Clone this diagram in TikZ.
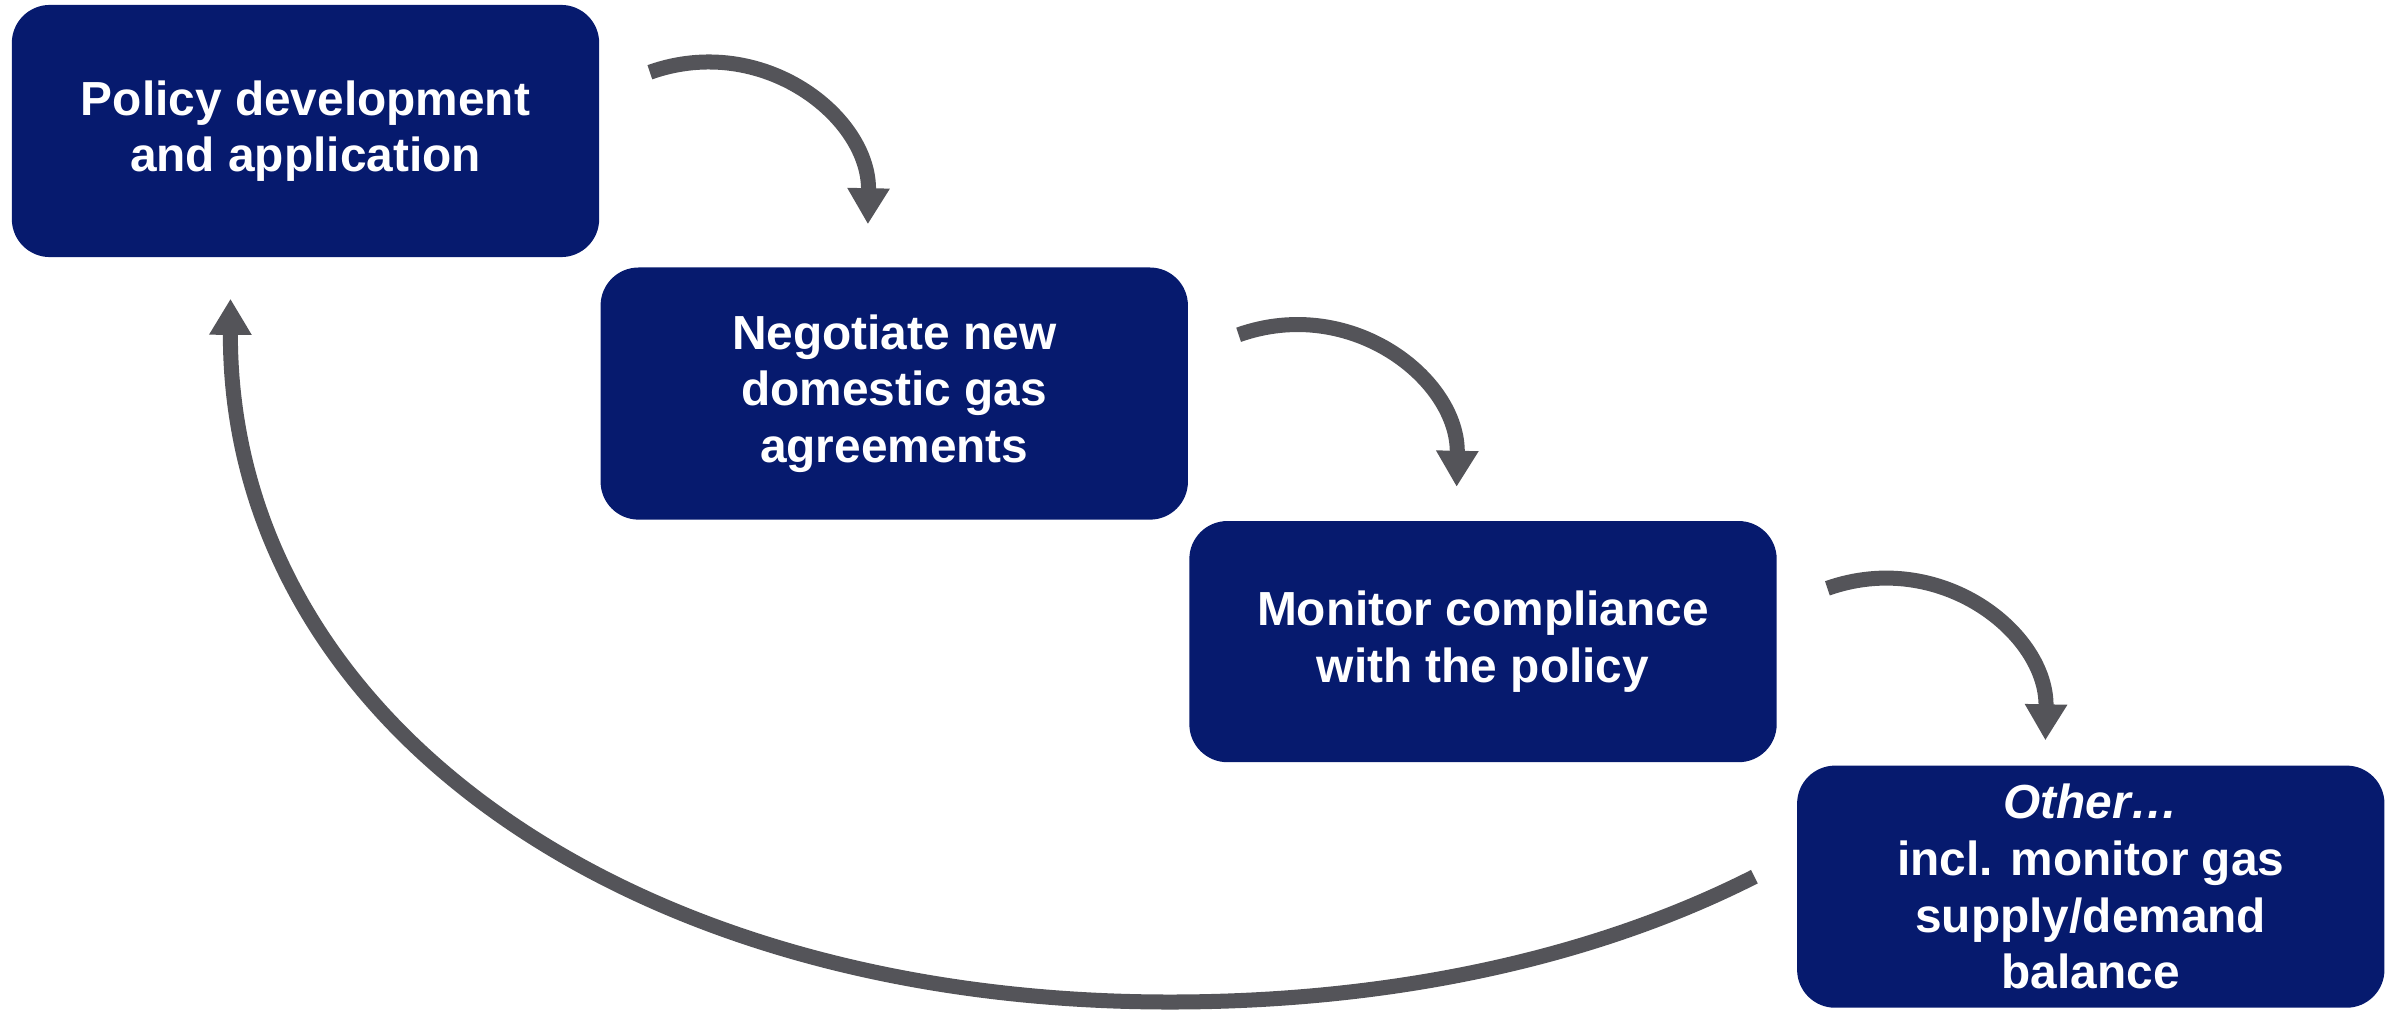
\documentclass[tikz,border=0pt]{standalone}
\usepackage{fontspec}
\setmainfont{Liberation Sans}
\usetikzlibrary{positioning,arrows.meta,calc}
\definecolor{navy}{HTML}{061A6E}
\definecolor{arrowgrey}{HTML}{545459}

\begin{document}
\begin{tikzpicture}[x=0.01cm, y=-0.01cm,
  stage/.style={fill=navy, rounded corners=0.38cm, minimum width=5.87cm, minimum height=2.52cm,
    align=center, text=white, inner sep=0pt, font=\fontsize{13.6}{16.1}\selectfont\bfseries},
  flow/.style={draw=arrowgrey, line width=0.15cm, -{Triangle[width=0.4cm,length=0.36cm]}}]
\useasboundingbox (0,0) rectangle (2395,1018);

% the four stages, stepping down to the right
\node[stage] (n1) at (305.5,131) {Policy development\\and application};
\node[stage, below right=0.09cm and 0cm of n1] (n2) {Negotiate new\\domestic gas\\agreements};
\node[stage, minimum height=2.41cm, below right=0cm and 0cm of n2] (n3) {Monitor compliance\\with the policy};
\node[stage, minimum height=2.42cm, below right=0.02cm and 0.19cm of n3] (n4) {\textit{Other…}\\incl. monitor gas\\supply/demand\\balance};

% curved arrows from one stage to the next
\foreach \i in {1,2,3} {
  \coordinate (s\i) at ([shift={(50,68)}]n\i.north east);
  \coordinate (t\i) at ([shift={(268,220)}]n\i.north east);
  \draw[flow] (s\i) .. controls ($(s\i)+(113,-40)$) and ($(t\i)+(2,-107)$) .. (t\i);
}

% long arrow back to the start
\coordinate (r0) at ([shift={(-42,-10)}]n4.west);
\coordinate (r1) at ([shift={(-75,41)}]n1.south);
\coordinate (rb) at (1170,1002);
\draw[flow] (r0) .. controls (1600,955) and (1400,1002) .. (rb)
  .. controls (620,1002) and (229,715) .. (r1);
\end{tikzpicture}
\end{document}
